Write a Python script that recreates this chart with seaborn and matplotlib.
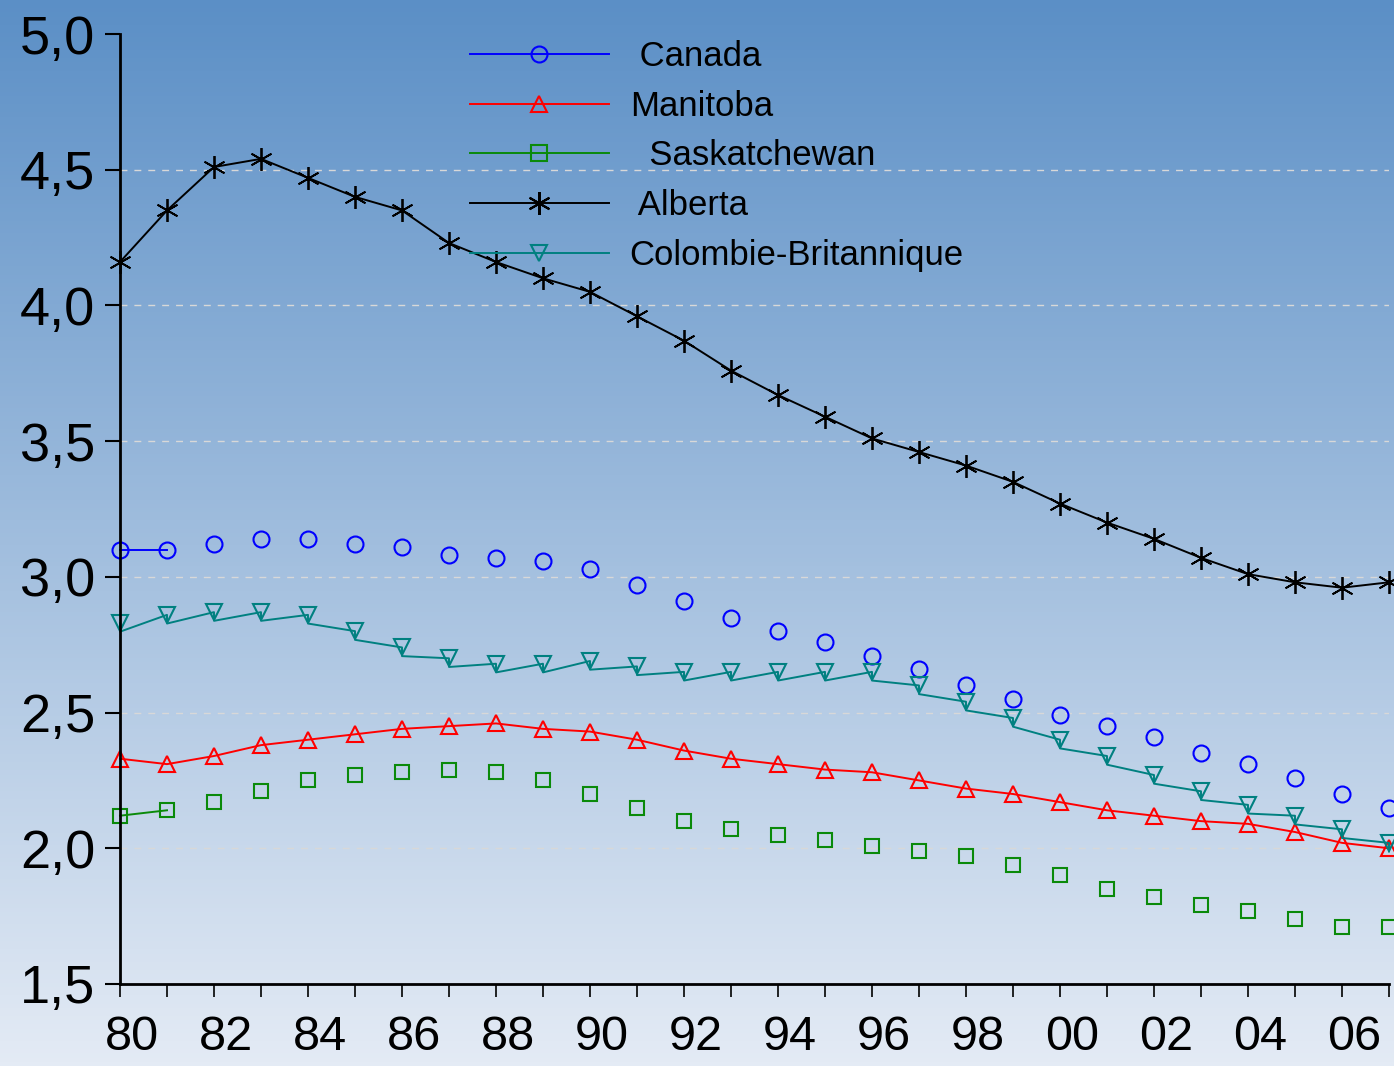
import matplotlib
matplotlib.use("Agg")
import matplotlib.pyplot as plt
import matplotlib.transforms as mtransforms
from matplotlib.lines import Line2D
from matplotlib.ticker import FuncFormatter, MultipleLocator
import numpy as np
import pandas as pd
import seaborn as sns

years = list(range(1980, 2008))

canada = [3.10, 3.10, 3.12, 3.14, 3.14, 3.12, 3.11, 3.08, 3.07, 3.06,
          3.03, 2.97, 2.91, 2.85, 2.80, 2.76, 2.71, 2.66, 2.60, 2.55,
          2.49, 2.45, 2.41, 2.35, 2.31, 2.26, 2.20, 2.15]
manitoba = [2.33, 2.31, 2.34, 2.38, 2.40, 2.42, 2.44, 2.45, 2.46, 2.44,
            2.43, 2.40, 2.36, 2.33, 2.31, 2.29, 2.28, 2.25, 2.22, 2.20,
            2.17, 2.14, 2.12, 2.10, 2.09, 2.06, 2.02, 2.00]
saskatchewan = [2.12, 2.14, 2.17, 2.21, 2.25, 2.27, 2.28, 2.29, 2.28, 2.25,
                2.20, 2.15, 2.10, 2.07, 2.05, 2.03, 2.01, 1.99, 1.97, 1.94,
                1.90, 1.85, 1.82, 1.79, 1.77, 1.74, 1.71, 1.71]
alberta = [4.16, 4.35, 4.51, 4.54, 4.47, 4.40, 4.35, 4.23, 4.16, 4.10,
           4.05, 3.96, 3.87, 3.76, 3.67, 3.59, 3.51, 3.46, 3.41, 3.35,
           3.27, 3.20, 3.14, 3.07, 3.01, 2.98, 2.96, 2.98]
colombie = [2.83, 2.86, 2.87, 2.87, 2.86, 2.80, 2.74, 2.70, 2.68, 2.68,
            2.69, 2.67, 2.65, 2.65, 2.65, 2.65, 2.65, 2.60, 2.54, 2.48,
            2.40, 2.34, 2.27, 2.21, 2.16, 2.12, 2.07, 2.02]

labels = [" Canada", "Manitoba", "  Saskatchewan", " Alberta", "Colombie-Britannique"]
colors = ["#0000ff", "#ff0000", "#0a8a0a", "#000000", "#008080"]
markers = ["o", "^", "s", (6, 2, 0), "v"]

df = pd.DataFrame({"year": years, "canada": canada, "manitoba": manitoba,
                   "saskatchewan": saskatchewan, "alberta": alberta,
                   "colombie": colombie})

fig = plt.figure(figsize=(13.94, 10.66), dpi=100)

# gradient background over the whole figure
bg = fig.add_axes([0, 0, 1, 1], zorder=-10)
grad = np.linspace(0, 1, 256).reshape(-1, 1)
top = np.array([91, 143, 198]) / 255
bot = np.array([228, 235, 245]) / 255
img = top + (bot - top) * grad[:, :, None]
bg.imshow(img, aspect="auto", extent=[0, 1, 0, 1])
bg.axis("off")

ax = fig.add_axes([120 / 1394, 82 / 1066, 1269 / 1394, 950 / 1066])
ax.patch.set_alpha(0)

ms = 11.5
mew = 1.5
lw = 1.4

common = dict(estimator=None, sort=False, ax=ax, legend=False)

# Canada: markers, line only for the first segment
sns.lineplot(data=df.iloc[:2], x="year", y="canada", color=colors[0], lw=lw, **common)
sns.lineplot(data=df, x="year", y="canada", linestyle="none", marker="o",
             markersize=ms, markerfacecolor="none", markeredgecolor=colors[0],
             markeredgewidth=mew, **common)

# Manitoba
sns.lineplot(data=df, x="year", y="manitoba", color=colors[1], lw=lw, marker="^",
             markersize=ms, markerfacecolor="none", markeredgecolor=colors[1],
             markeredgewidth=mew, **common)

# Saskatchewan: markers, line only for the first segment
sns.lineplot(data=df.iloc[:2], x="year", y="saskatchewan", color=colors[2], lw=lw, **common)
sns.lineplot(data=df, x="year", y="saskatchewan", linestyle="none", marker="s",
             markersize=ms - 1, markerfacecolor="none", markeredgecolor=colors[2],
             markeredgewidth=mew, **common)

# Alberta
sns.lineplot(data=df, x="year", y="alberta", color=colors[3], lw=lw, marker=(6, 2, 0),
             markersize=ms + 5, markeredgecolor=colors[3], markeredgewidth=1.3, **common)

# Colombie-Britannique: sawtooth line (center of marker to its tip)
drop = 0.032
saw = pd.DataFrame({
    "year": np.repeat(df["year"].values, 2),
    "val": np.column_stack([df["colombie"].values, df["colombie"].values - drop]).ravel(),
})
sns.lineplot(data=saw, x="year", y="val", color=colors[4], lw=lw, **common)
sns.lineplot(data=df, x="year", y="colombie", linestyle="none", marker="v",
             markersize=ms, markerfacecolor="none", markeredgecolor=colors[4],
             markeredgewidth=mew, **common)

for line in ax.get_lines():
    line.set_clip_on(False)

ax.set_xlim(1980, 2007)
ax.set_ylim(1.5, 5.0)
ax.set_xlabel("")
ax.set_ylabel("")

for y in [2.0, 2.5, 3.0, 3.5, 4.0, 4.5]:
    ax.axhline(y, color="#d8d8d8", lw=1.0, ls=(0, (5, 5)), zorder=0)

for s in ["top", "right"]:
    ax.spines[s].set_visible(False)
for s in ["left", "bottom"]:
    ax.spines[s].set_linewidth(2)
    ax.spines[s].set_color("black")

ax.yaxis.set_major_locator(MultipleLocator(0.5))
ax.yaxis.set_major_formatter(FuncFormatter(lambda v, p: f"{v:.1f}".replace(".", ",")))
ax.xaxis.set_major_locator(MultipleLocator(2))
ax.xaxis.set_minor_locator(MultipleLocator(1))
ax.xaxis.set_major_formatter(FuncFormatter(lambda v, p: f"{int(v) % 100:02d}"))

font = "Liberation Sans"
ax.tick_params(axis="y", direction="out", length=11, width=1.5, pad=7,
               labelsize=39, labelfontfamily=font)
ax.tick_params(axis="x", which="both", direction="out", length=9, width=1.2)
ax.tick_params(axis="x", which="major", pad=13, labelsize=35, labelfontfamily=font)

shift = mtransforms.ScaledTranslation(12 / 100, 0, fig.dpi_scale_trans)
for lab in ax.get_xticklabels():
    lab.set_transform(lab.get_transform() + shift)

handles = [
    Line2D([], [], color=c, lw=lw, marker=m, markersize=(ms + 5 if m == (6, 2, 0) else ms),
           markerfacecolor="none", markeredgecolor=c, markeredgewidth=mew)
    for c, m in zip(colors, markers)
]
leg = fig.legend(handles, labels, loc="upper left",
                 bbox_to_anchor=(470 / 1394, 1 - 40 / 1066),
                 frameon=False, prop={"family": font, "size": 25},
                 handlelength=4.0, handletextpad=0.6, labelspacing=0.48,
                 borderpad=0, borderaxespad=0)

fig.savefig("out.png", dpi=100)
